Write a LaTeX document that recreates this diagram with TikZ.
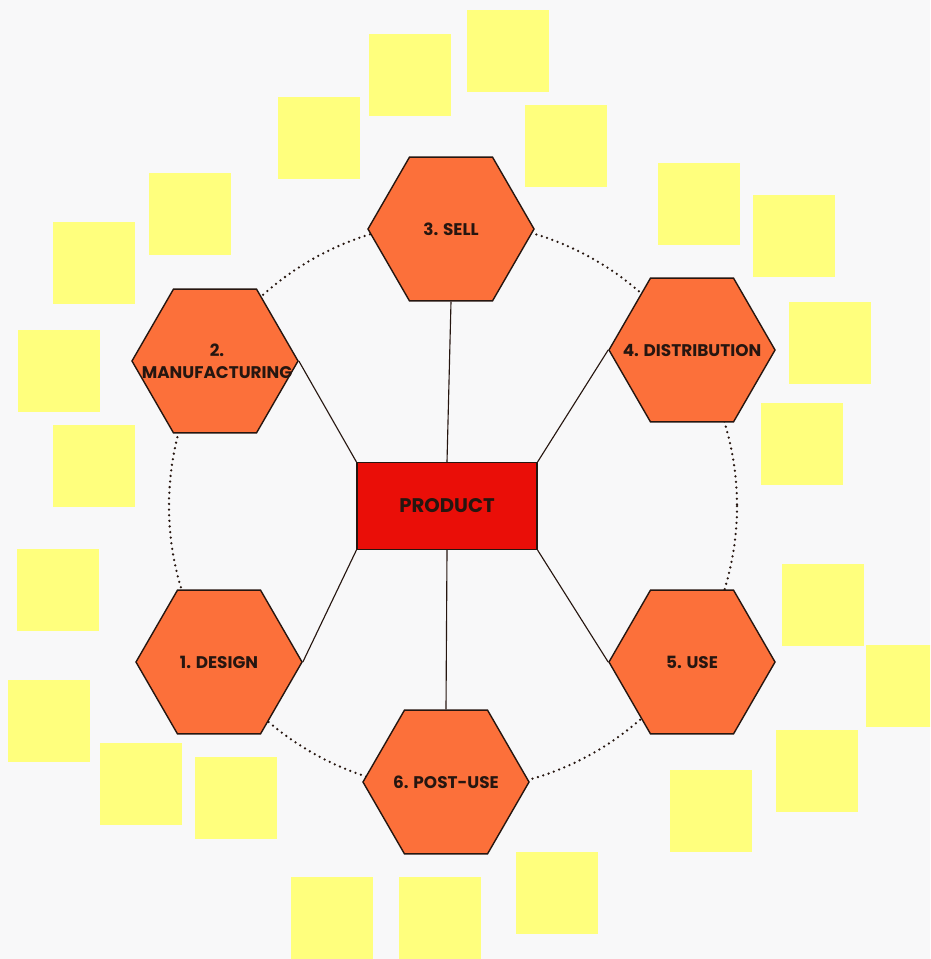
\documentclass[tikz,border=0pt]{standalone}
\usepackage{fontspec}
\setmainfont{Poppins}
\usetikzlibrary{shapes.geometric}
\definecolor{bgpaper}{RGB}{248,248,249}
\definecolor{stickyyel}{RGB}{255,255,125}
\definecolor{hexorange}{RGB}{252,112,58}
\definecolor{prodred}{RGB}{234,14,8}
\definecolor{inkdark}{RGB}{38,22,16}
\begin{document}
\begin{tikzpicture}[x=0.025cm, y=-0.025cm,
  sticky/.style={fill=stickyyel, draw=none},
  hexa/.style={regular polygon, regular polygon sides=6, minimum size=4.15cm,
    inner sep=0pt, fill=hexorange, draw=inkdark, line width=1pt},
  hexlab/.style={font=\bfseries\fontsize{12}{15.5}\selectfont, text=inkdark,
    align=center, inner sep=0pt},
  prodbox/.style={rectangle, minimum width=4.5cm, minimum height=2.175cm,
    fill=prodred, draw=inkdark, line width=0.8pt,
    font=\bfseries\fontsize{14}{16}\selectfont, text=inkdark},
  link/.style={draw=inkdark, line width=0.8pt},
  ring/.style={draw=inkdark, line width=1.8pt, line cap=round,
    dash pattern=on 0pt off 4pt}]
\def\sn{82}   % sticky note side
% page (px units, y downwards)
\useasboundingbox (0,0) rectangle (930,959);
\fill[bgpaper] (0,0) rectangle (930,959);
\clip (0,0) rectangle (930,959);
% sticky notes round the cycle (top-left corners)
\foreach \sx/\sy in {369/34, 467/10, 278/97, 525/105,
  149/173, 53/222, 18/330, 53/425, 17/549, 8/680, 100/743, 195/757,
  658/163, 753/195, 789/302, 761/403, 782/564, 866/645, 776/730, 670/770,
  516/852, 291/877, 399/877} {
  \fill[sticky] (\sx,\sy) rectangle (\sx+\sn,\sy+\sn);
}
% lifecycle ring
\draw[ring] (453,506) circle (284);
% stages
\node[hexa] (sell) at (451,229) {};
\node[hexa] (mfg)  at (215,361) {};
\node[hexa] (dist) at (692,350) {};
\node[hexa] (use)  at (692,662) {};
\node[hexa] (post) at (446,782) {};
\node[hexa] (dsgn) at (219,662) {};
\node[hexlab] (sell-t) at (sell) {3. SELL};
\node[hexlab] (mfg-t)  at (217,361) {2.\\MANUFACTURING};
\node[hexlab] (dist-t) at (dist) {4. DISTRIBUTION};
\node[hexlab] (use-t)  at (use) {5. USE};
\node[hexlab] (post-t) at (post) {6. POST-USE};
\node[hexlab] (dsgn-t) at (dsgn) {1. DESIGN};
% centre
\node[prodbox] (prod) at (447,506) {PRODUCT};
% spokes
\draw[link] (prod.north) -- (sell.-90);
\draw[link] (prod.north west) -- (mfg.0);
\draw[link] (prod.north east) -- (dist.180);
\draw[link] (prod.south east) -- (use.180);
\draw[link] (prod.south) -- (post.90);
\draw[link] (prod.south west) -- (dsgn.0);
\end{tikzpicture}
\end{document}
